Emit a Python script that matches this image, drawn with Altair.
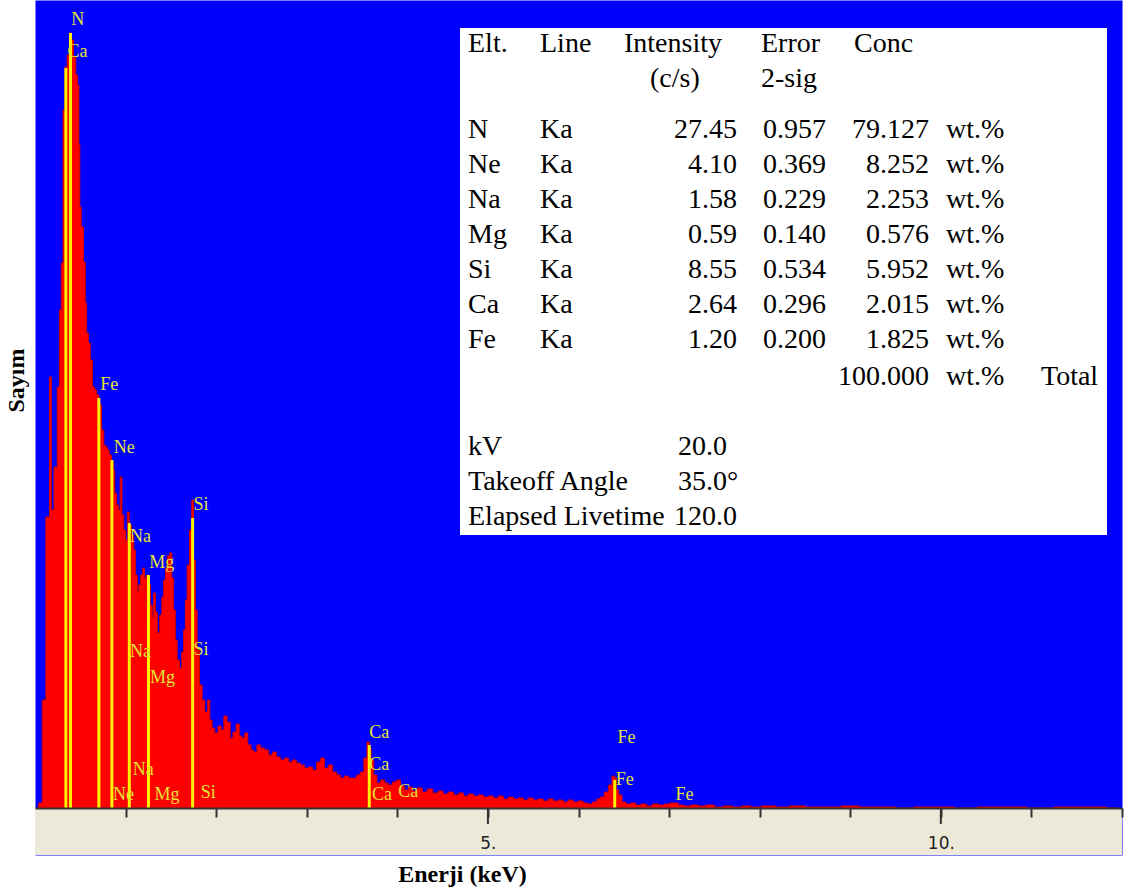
import altair as alt
import pandas as pd

# ---------------- spectrum (energy keV, counts) ----------------
energy = [0.02, 0.06, 0.10, 0.14, 0.15, 0.17, 0.19, 0.23, 0.26, 0.28, 0.30, 0.32, 0.34, 0.37, 0.39,
          0.41, 0.44, 0.46, 0.48, 0.49, 0.50, 0.52, 0.55, 0.56, 0.58, 0.60, 0.62, 0.65, 0.67, 0.69,
          0.72, 0.75, 0.77, 0.79, 0.81, 0.83, 0.86, 0.87, 0.89, 0.91, 0.93, 0.95, 0.97, 0.99, 1.01,
          1.03, 1.05, 1.08, 1.10, 1.12, 1.14, 1.15, 1.18, 1.20, 1.22, 1.24, 1.26, 1.29, 1.30, 1.32,
          1.34, 1.36, 1.39, 1.41, 1.43, 1.45, 1.47, 1.50, 1.52, 1.54, 1.56, 1.58, 1.61, 1.63, 1.65,
          1.67, 1.69, 1.72, 1.74, 1.76, 1.78, 1.80, 1.83, 1.86, 1.89, 1.92, 1.94, 1.97, 2.00, 2.04,
          2.07, 2.10, 2.14, 2.17, 2.20, 2.24, 2.27, 2.30, 2.33, 2.37, 2.40, 2.43, 2.47, 2.51, 2.56,
          2.60, 2.64, 2.69, 2.73, 2.78, 2.82, 2.86, 2.91, 2.95, 3.00, 3.04, 3.09, 3.13, 3.17, 3.22,
          3.26, 3.31, 3.35, 3.39, 3.44, 3.48, 3.53, 3.57, 3.61, 3.65, 3.68, 3.70, 3.72, 3.76, 3.79,
          3.84, 3.88, 3.92, 3.97, 4.01, 4.06, 4.10, 4.14, 4.19, 4.25, 4.30, 4.36, 4.42, 4.48, 4.53,
          4.59, 4.65, 4.70, 4.76, 4.81, 4.87, 4.92, 4.98, 5.03, 5.09, 5.14, 5.20, 5.25, 5.31, 5.36,
          5.42, 5.47, 5.53, 5.58, 5.64, 5.69, 5.75, 5.80, 5.86, 5.91, 5.97, 6.02, 6.08, 6.13, 6.18,
          6.22, 6.26, 6.31, 6.35, 6.39, 6.41, 6.43, 6.46, 6.50, 6.55, 6.60, 6.66, 6.72, 6.78, 6.85,
          6.92, 6.98, 7.04, 7.08, 7.12, 7.20, 7.28, 7.36, 7.45, 7.55, 7.65, 7.75, 7.85, 7.95, 8.10,
          8.25, 8.40, 8.60, 8.80, 9.00, 9.20, 9.40, 9.60, 9.80, 10.00, 10.30, 10.50, 10.80, 11.10, 11.40,
          11.70, 11.95]
counts = [0, 5, 108, 291, 291, 431, 298, 341, 421, 498, 545, 698, 741, 753, 775,
          768, 751, 733, 723, 663, 601, 581, 546, 505, 475, 465, 448, 421, 418, 413,
          403, 378, 363, 361, 358, 353, 346, 338, 315, 303, 298, 331, 293, 278, 268,
          296, 283, 273, 258, 233, 216, 223, 233, 240, 230, 233, 223, 203, 191, 215,
          196, 175, 193, 211, 228, 240, 252, 255, 230, 198, 168, 148, 140, 156, 178,
          208, 243, 278, 308, 248, 198, 158, 123, 108, 96, 108, 88, 80, 75, 82,
          78, 92, 86, 70, 76, 84, 72, 70, 75, 63, 58, 56, 63, 60, 58,
          53, 56, 51, 48, 50, 46, 48, 45, 43, 40, 41, 38, 46, 50, 40,
          43, 36, 33, 30, 32, 30, 30, 33, 36, 50, 66, 60, 48, 33, 25,
          28, 25, 23, 26, 28, 22, 18, 21, 17, 20, 16, 19, 15, 17, 14,
          16, 13, 15, 12, 14, 12, 13, 11, 12, 10, 12, 9, 11, 9, 10,
          8, 10, 8, 9, 7, 9, 7, 8, 6, 8, 6, 7, 5, 4, 6,
          9, 11, 16, 23, 32, 30, 18, 13, 6, 4, 5, 3, 4, 2, 4,
          3, 4, 5, 5, 3, 2, 3, 2, 3, 1, 2, 1, 2, 1, 2,
          1, 2, 1, 1, 2, 1, 1, 0, 1, 1, 0, 1, 1, 0, 1,
          1, 0]

# ---------------- element marker lines ----------------
marker_energy = [0.341, 0.392, 0.705, 0.849, 1.041, 1.253, 1.740, 3.690, 6.400]
marker_top = [740, 775, 410, 348, 285, 233, 290, 63, 28]

# ---------------- element labels ----------------
label_text = ["N", "Ca", "Fe", "Ne", "Na", "Mg", "Si", "Na", "Si", "Mg", "Na", "Ne", "Mg", "Si",
              "Ca", "Ca", "Ca", "Ca", "Fe", "Fe", "Fe"]
label_energy = [0.40, 0.36, 0.72, 0.87, 1.05, 1.26, 1.75, 1.05, 1.75, 1.27, 1.08, 0.86, 1.32, 1.83,
                3.69, 3.69, 3.72, 4.01, 6.43, 6.41, 7.07]
label_count = [788, 756, 423, 360, 271, 245, 303, 156, 158, 130, 38, 13, 13, 15,
               75, 43, 13, 16, 70, 28, 13]

# ---------------- axis ----------------
tick_values = [1, 2, 3, 4, 5, 6, 7, 8, 9, 10, 11, 12]
major_ticks = [5, 10]

# ---------------- inset table ----------------
tbl_left_text = ["Elt.", "Line", "Intensity", "Error", "Conc", "(c/s)", "2-sig",
                 "N", "Ne", "Na", "Mg", "Si", "Ca", "Fe",
                 "Ka", "Ka", "Ka", "Ka", "Ka", "Ka", "Ka",
                 "wt.%", "wt.%", "wt.%", "wt.%", "wt.%", "wt.%", "wt.%", "wt.%", "Total",
                 "kV", "Takeoff Angle", "Elapsed Livetime", "20.0", "35.0°", "120.0"]
tbl_left_x = [468, 540, 624, 761, 854, 650, 761,
              468, 468, 468, 468, 468, 468, 468,
              540, 540, 540, 540, 540, 540, 540,
              946, 946, 946, 946, 946, 946, 946, 946, 1041,
              468, 468, 468, 678, 678, 674]
tbl_left_y = [52, 52, 52, 52, 52, 87, 87,
              138, 173, 208, 243, 278, 313, 348,
              138, 173, 208, 243, 278, 313, 348,
              138, 173, 208, 243, 278, 313, 348, 385, 385,
              455, 490, 525, 455, 490, 525]

intensity = ["27.45", "4.10", "1.58", "0.59", "8.55", "2.64", "1.20"]
error2sig = ["0.957", "0.369", "0.229", "0.140", "0.534", "0.296", "0.200"]
conc = ["79.127", "8.252", "2.253", "0.576", "5.952", "2.015", "1.825", "100.000"]
row_y = [138, 173, 208, 243, 278, 313, 348]
total_y = 385
col_right = [737, 826, 929]

PAD_L = 35
W, H = 1087, 855
SERIF = "Liberation Serif, Times New Roman, serif"

# ---------------- data frames ----------------
spec = pd.DataFrame({"energy": energy, "counts": counts})
markers = pd.DataFrame({"energy": marker_energy, "top": marker_top, "base": [0] * len(marker_energy)})
labels = pd.DataFrame({"energy": label_energy, "counts": label_count, "text": label_text})
band = pd.DataFrame({"x0": [0], "x1": [12], "y0": [-47], "y1": [0]})
majors = pd.DataFrame({"energy": major_ticks, "y0": [0, 0], "y1": [-16, -16]})

tl = pd.DataFrame({"text": tbl_left_text,
                   "px": [v - PAD_L for v in tbl_left_x],
                   "py": tbl_left_y})
r_text, r_x, r_y = [], [], []
for i, y in enumerate(row_y):
    r_text += [intensity[i], error2sig[i], conc[i]]
    r_x += col_right
    r_y += [y, y, y]
r_text.append(conc[7]); r_x.append(col_right[2]); r_y.append(total_y)
tr = pd.DataFrame({"text": r_text, "px": [v - PAD_L for v in r_x], "py": r_y})

xs = alt.Scale(domain=[0, 12], nice=False, zero=False)
ys = alt.Scale(domain=[-47, 808], nice=False, zero=False)

x_axis = alt.Axis(values=tick_values, grid=False, tickSize=9, tickWidth=2, tickColor="#333333",
                  domainColor="#333333", domainWidth=2, offset=-47, labelPadding=18, zindex=2,
                  labelExpr="datum.value == 5 || datum.value == 10 ? datum.value + '.' : ''",
                  labelFont="DejaVu Sans", labelFontSize=17, labelColor="#222222",
                  title="Enerji (keV)", titleFont=SERIF, titleFontSize=24,
                  titleFontWeight="bold", titleColor="black", titleX=427, titleY=73,
                  titleBaseline="alphabetic", titleAnchor="start", titleAlign="center")
y_axis = alt.Axis(labels=False, ticks=False, domain=False, grid=False,
                  title="Sayım", titleFont=SERIF, titleFontSize=24,
                  titleFontWeight="bold", titleColor="black", titleX=-12, titleY=380,
                  titleAngle=270, titleAlign="center", titleBaseline="alphabetic")

band_layer = alt.Chart(band).mark_rect(color="#ECE9D8").encode(
    x=alt.X("x0:Q", scale=xs, axis=x_axis), x2="x1:Q",
    y=alt.Y("y0:Q", scale=ys, axis=y_axis), y2="y1:Q")

area = alt.Chart(spec).mark_area(interpolate="step", color="#FF0000", opacity=1, fillOpacity=1,
                                 line={"color": "#C80000", "strokeWidth": 1}).encode(
    x=alt.X("energy:Q", scale=xs), y=alt.Y("counts:Q", scale=ys))

rules = alt.Chart(markers).mark_rule(color="#FFF200", strokeWidth=3).encode(
    x=alt.X("energy:Q", scale=xs), y=alt.Y("base:Q", scale=ys), y2="top:Q")

major_rules = alt.Chart(majors).mark_rule(color="#333333", strokeWidth=2).encode(
    x=alt.X("energy:Q", scale=xs), y=alt.Y("y0:Q", scale=ys), y2="y1:Q")

lbl = alt.Chart(labels).mark_text(align="left", baseline="middle", font=SERIF,
                                  fontSize=18, color="#E3E336").encode(
    x=alt.X("energy:Q", scale=xs), y=alt.Y("counts:Q", scale=ys), text="text:N")

box = alt.Chart(pd.DataFrame({"a": [0]})).mark_rect(color="white").encode(
    x=alt.value(460 - PAD_L), x2=alt.value(1107 - PAD_L), y=alt.value(28), y2=alt.value(535))

tbl_l = alt.Chart(tl).mark_text(align="left", baseline="alphabetic", font=SERIF,
                                fontSize=28, color="black").encode(
    x=alt.X("px:Q", scale=None), y=alt.Y("py:Q", scale=None), text="text:N")
tbl_r = alt.Chart(tr).mark_text(align="right", baseline="alphabetic", font=SERIF,
                                fontSize=28, color="black").encode(
    x=alt.X("px:Q", scale=None), y=alt.Y("py:Q", scale=None), text="text:N")

chart = alt.layer(band_layer, area, rules, major_rules, lbl, box, tbl_l, tbl_r).properties(
    width=W, height=H, autosize=alt.AutoSizeParams(type="none"),
    padding={"left": PAD_L, "top": 0, "right": 13, "bottom": 37},
    background="white"
).configure_view(fill="#0000FF", strokeOpacity=0)

chart.save("out.html", embed_options={"renderer": "svg", "actions": False})
